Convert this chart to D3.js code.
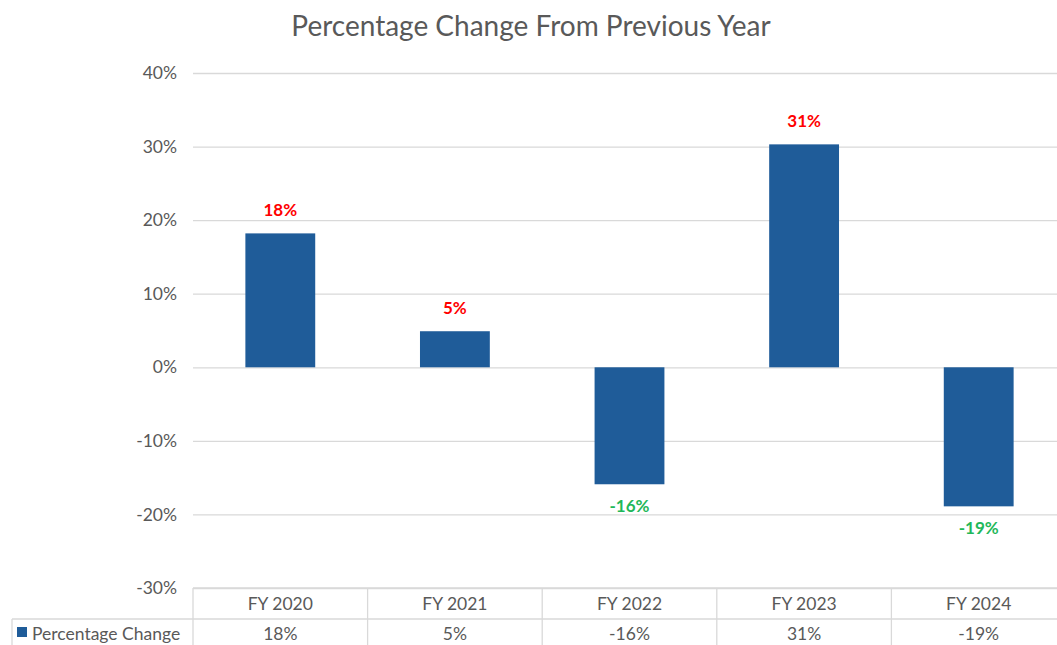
<!DOCTYPE html>
<html>
<head>
<meta charset="utf-8">
<script src="https://cdn.jsdelivr.net/npm/d3@7"></script>
<style>
  body { margin: 0; background: #fff; }
  svg { font-family: Lato, "Open Sans", sans-serif; }
</style>
</head>
<body>
<script>
// chart data
const years = ['FY 2020', 'FY 2021', 'FY 2022', 'FY 2023', 'FY 2024']
const changes = [18.2, 4.9, -15.9, 30.3, -18.9]
const tableLabels = ['18%', '5%', '-16%', '31%', '-19%']
const yTicks = [40, 30, 20, 10, 0, -10, -20, -30]
const seriesName = 'Percentage Change'

const m = { width: 1057, height: 645 }

const svg = d3.select('body').append('svg')
    .attr('width', m.width)
    .attr('height', m.height)

const x = d3.scaleBand()
    .domain(years)
    .range([193, 1066])
    .paddingInner(0.6)
    .paddingOuter(0.3)

const cell = d3.scaleBand()
    .domain(years)
    .range([193, 1066])

const y = d3.scaleLinear()
    .domain([-30, 40])
    .range([588, 73])

// title
svg.append('text')
    .attr('x', 531)
    .attr('y', 36)
    .attr('text-anchor', 'middle')
    .attr('font-size', 28)
    .attr('fill', '#595959')
    .text('Percentage Change From Previous Year')

// gridlines + y labels
const yAxis = d3.axisLeft(y)
    .tickValues(yTicks)
    .tickSize(-(1066 - 193))
    .tickPadding(16)
    .tickFormat(d => d + '%')

svg.append('g')
    .attr('transform', 'translate(193,0)')
    .call(yAxis)
    .call(g => g.select('.domain').remove())
    .call(g => g.selectAll('line').attr('stroke', '#d9d9d9').attr('stroke-width', 1.3))
    .call(g => g.selectAll('text')
        .attr('fill', '#595959')
        .attr('font-size', 17.5)
        .attr('font-family', 'Lato, sans-serif'))

// bars
svg.selectAll('.bar')
    .data(changes)
    .enter()
    .append('rect')
        .attr('class', 'bar')
        .attr('x', (d, i) => x(years[i]))
        .attr('width', x.bandwidth())
        .attr('y', d => y(Math.max(0, d)))
        .attr('height', d => Math.abs(y(d) - y(0)))
        .attr('fill', '#1f5c99')

// value labels
svg.selectAll('.lbl')
    .data(changes)
    .enter()
    .append('text')
        .attr('class', 'lbl')
        .attr('x', (d, i) => x(years[i]) + x.bandwidth() / 2)
        .attr('y', d => d >= 0 ? y(d) - 17 : y(d) + 28)
        .attr('text-anchor', 'middle')
        .attr('font-size', 17)
        .attr('font-weight', 'bold')
        .attr('fill', d => d >= 0 ? '#ff0000' : '#1fb85a')
        .text((d, i) => tableLabels[i])

// data table
const table = svg.append('g')
const lineColor = '#d9d9d9'
const rowTop = y(-30), rowMid = 619, rowBot = 650

table.append('line')
    .attr('x1', 193).attr('x2', 1066)
    .attr('y1', rowTop).attr('y2', rowTop)
    .attr('stroke', lineColor).attr('stroke-width', 1.3)
table.append('line')
    .attr('x1', 12).attr('x2', 1066)
    .attr('y1', rowMid).attr('y2', rowMid)
    .attr('stroke', lineColor).attr('stroke-width', 1.3)
table.append('line')
    .attr('x1', 12).attr('x2', 12)
    .attr('y1', rowMid).attr('y2', rowBot)
    .attr('stroke', lineColor).attr('stroke-width', 1.3)

table.selectAll('.vline')
    .data(years)
    .enter()
    .append('line')
        .attr('class', 'vline')
        .attr('x1', d => cell(d)).attr('x2', d => cell(d))
        .attr('y1', rowTop).attr('y2', rowBot)
        .attr('stroke', lineColor).attr('stroke-width', 1.3)

table.selectAll('.yr')
    .data(years)
    .enter()
    .append('text')
        .attr('x', d => cell(d) + cell.bandwidth() / 2)
        .attr('y', 610)
        .attr('text-anchor', 'middle')
        .attr('font-size', 17.5)
        .attr('fill', '#595959')
        .text(d => d)

table.selectAll('.val')
    .data(tableLabels)
    .enter()
    .append('text')
        .attr('x', (d, i) => cell(years[i]) + cell.bandwidth() / 2)
        .attr('y', 640)
        .attr('text-anchor', 'middle')
        .attr('font-size', 17.5)
        .attr('fill', '#595959')
        .text(d => d)

table.append('rect')
    .attr('x', 17).attr('y', 627)
    .attr('width', 10).attr('height', 10)
    .attr('fill', '#1f5c99')
table.append('text')
    .attr('x', 32).attr('y', 640)
    .attr('font-size', 17.5)
    .attr('fill', '#595959')
    .text(seriesName)
</script>
</body>
</html>
